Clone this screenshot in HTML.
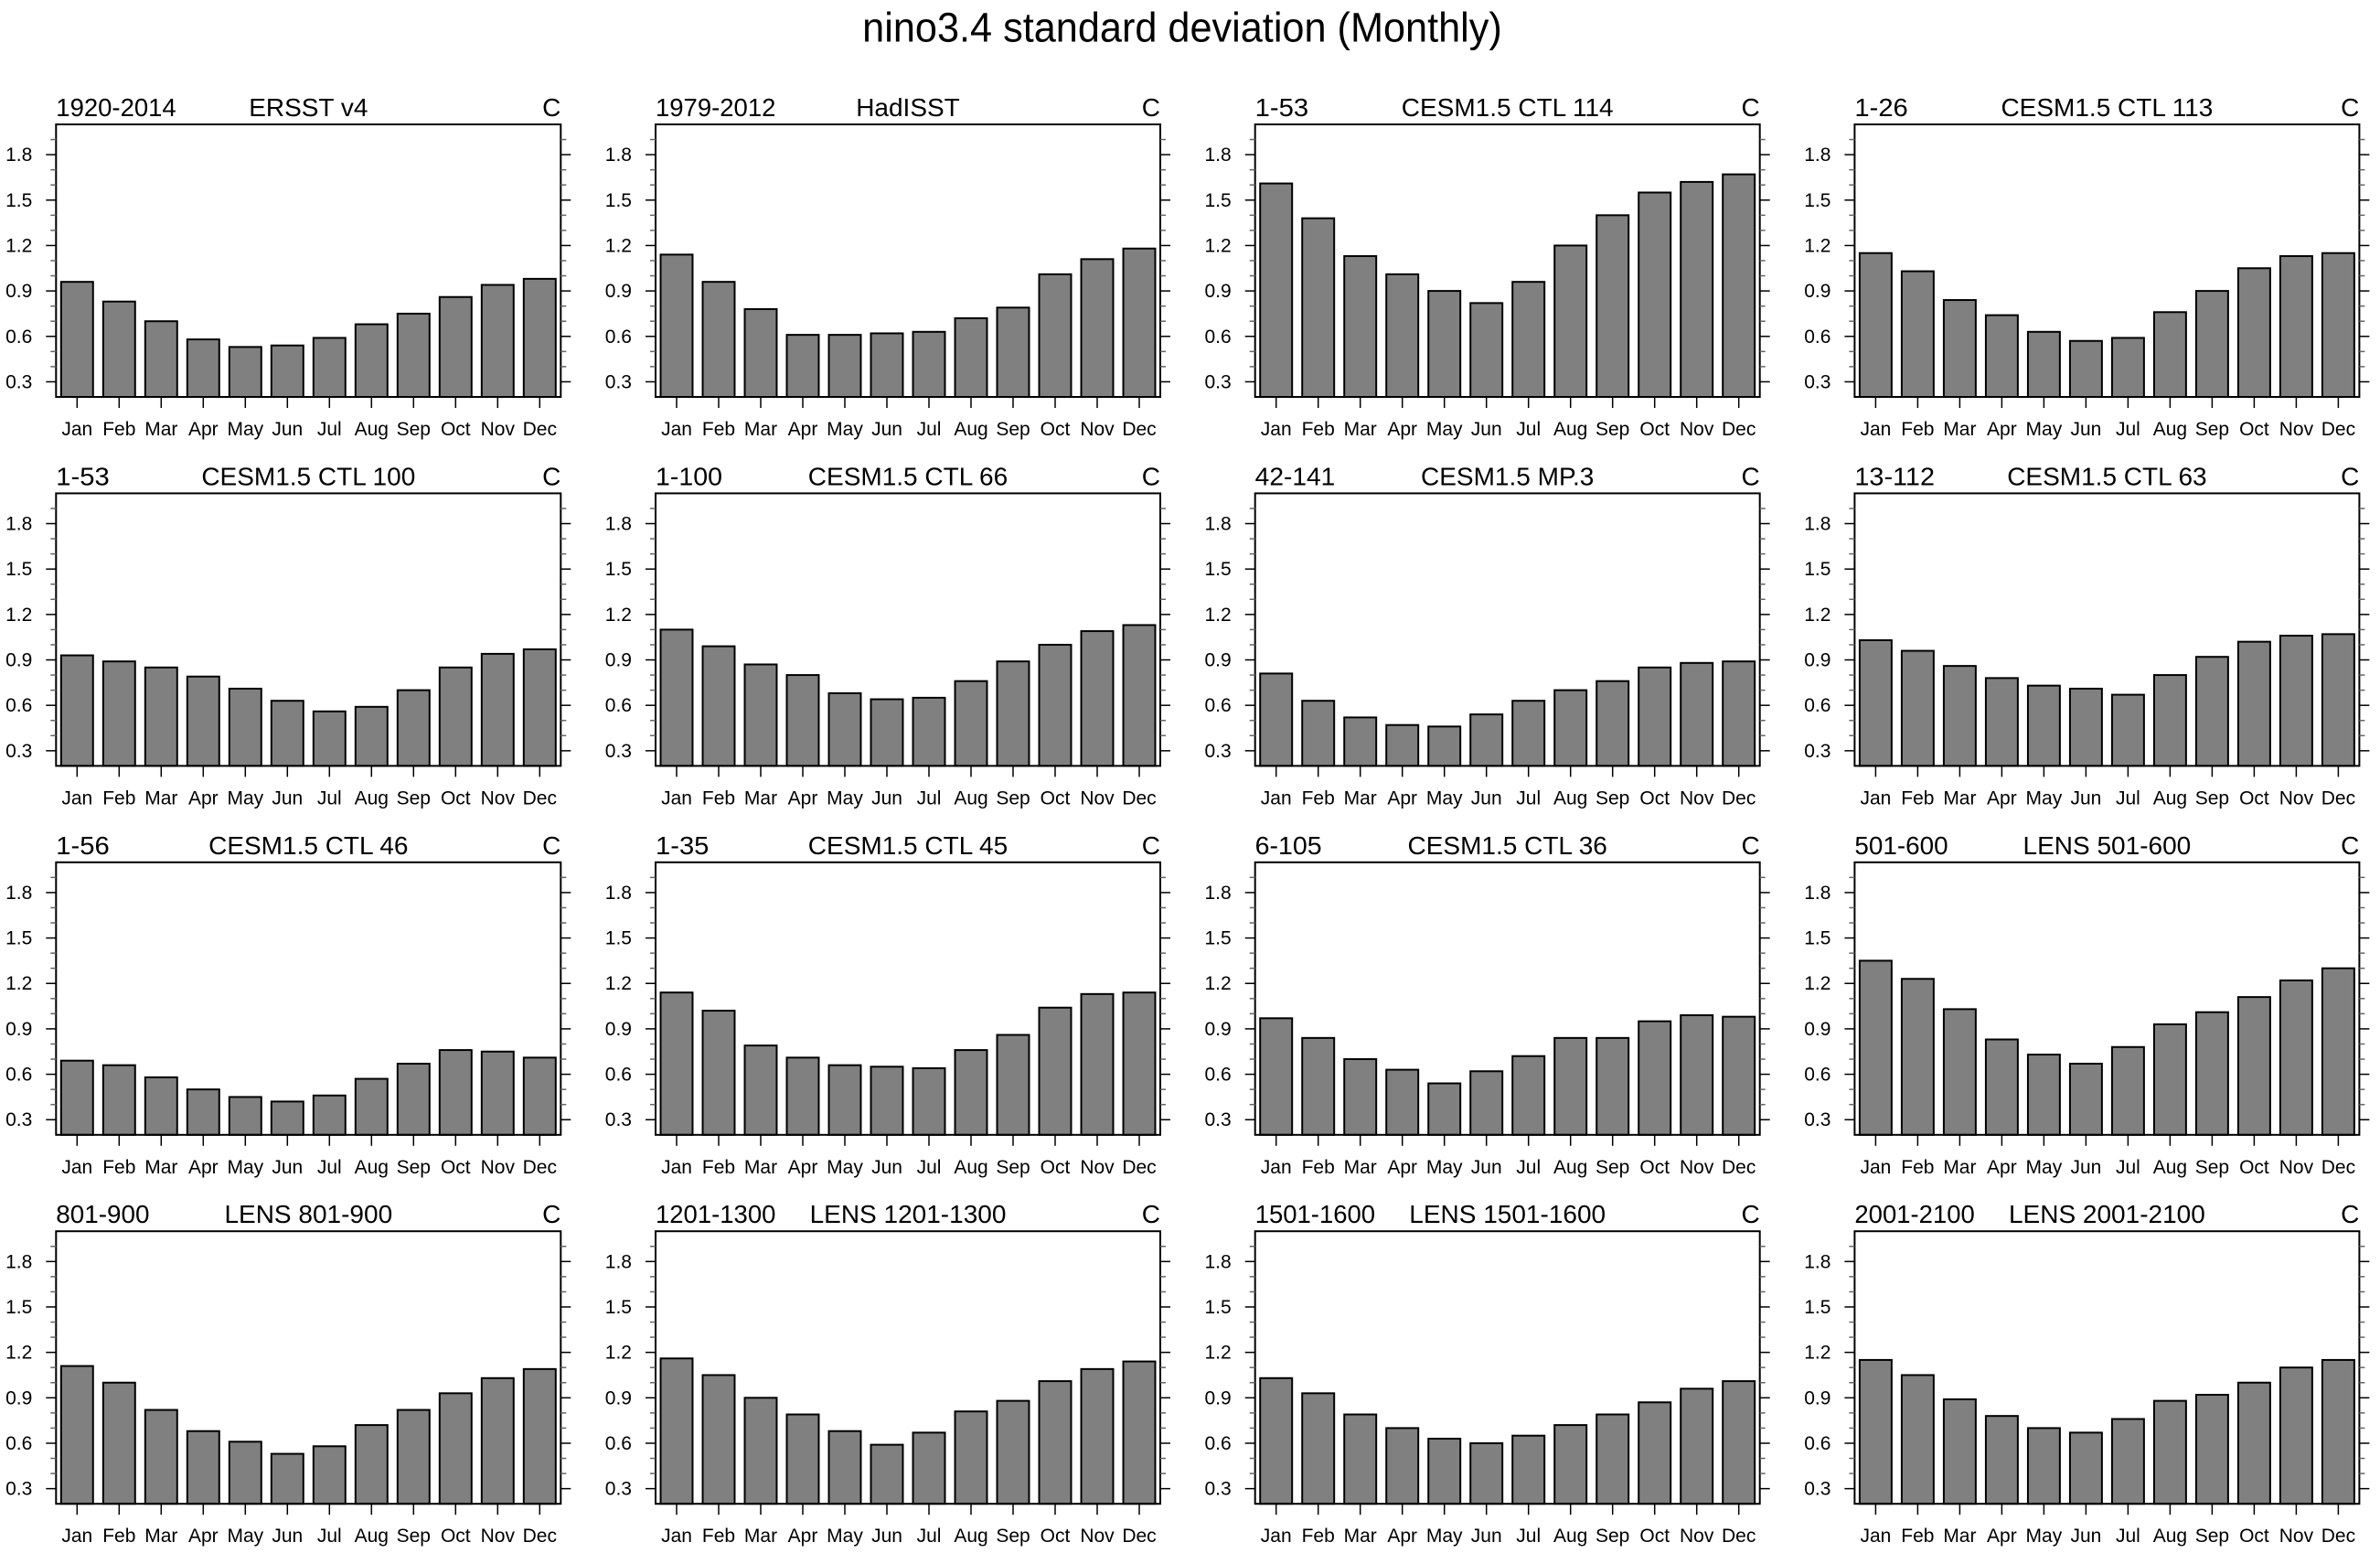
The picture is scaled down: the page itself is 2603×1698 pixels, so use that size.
<!DOCTYPE html>
<html><head><meta charset="utf-8">
<style>
html,body{margin:0;padding:0;background:#fff;}
svg{display:block;font-family:"Liberation Sans",sans-serif;}
</style></head>
<body>
<svg id="chart" width="2603" height="1698" viewBox="0 0 2603 1698" xmlns="http://www.w3.org/2000/svg">
<text x="1293" y="42" font-size="42" text-anchor="middle" fill="#000" transform="translate(1293 0) scale(1.03 1.08) translate(-1293 0)">nino3.4 standard deviation (Monthly)</text>
</svg>
<script>
const months = ["Jan","Feb","Mar","Apr","May","Jun","Jul","Aug","Sep","Oct","Nov","Dec"];
const yTicks = [0.3,0.6,0.9,1.2,1.5,1.8];
const periods = ["1920-2014","1979-2012","1-53","1-26","1-53","1-100","42-141","13-112","1-56","1-35","6-105","501-600","801-900","1201-1300","1501-1600","2001-2100"];
const names = ["ERSST v4","HadISST","CESM1.5 CTL 114","CESM1.5 CTL 113","CESM1.5 CTL 100","CESM1.5 CTL 66","CESM1.5 MP.3","CESM1.5 CTL 63","CESM1.5 CTL 46","CESM1.5 CTL 45","CESM1.5 CTL 36","LENS 501-600","LENS 801-900","LENS 1201-1300","LENS 1501-1600","LENS 2001-2100"];
const s1 = [0.96,0.83,0.70,0.58,0.53,0.54,0.59,0.68,0.75,0.86,0.94,0.98];
const s2 = [1.14,0.96,0.78,0.61,0.61,0.62,0.63,0.72,0.79,1.01,1.11,1.18];
const s3 = [1.61,1.38,1.13,1.01,0.90,0.82,0.96,1.20,1.40,1.55,1.62,1.67];
const s4 = [1.15,1.03,0.84,0.74,0.63,0.57,0.59,0.76,0.90,1.05,1.13,1.15];
const s5 = [0.93,0.89,0.85,0.79,0.71,0.63,0.56,0.59,0.70,0.85,0.94,0.97];
const s6 = [1.10,0.99,0.87,0.80,0.68,0.64,0.65,0.76,0.89,1.00,1.09,1.13];
const s7 = [0.81,0.63,0.52,0.47,0.46,0.54,0.63,0.70,0.76,0.85,0.88,0.89];
const s8 = [1.03,0.96,0.86,0.78,0.73,0.71,0.67,0.80,0.92,1.02,1.06,1.07];
const s9 = [0.69,0.66,0.58,0.50,0.45,0.42,0.46,0.57,0.67,0.76,0.75,0.71];
const s10 = [1.14,1.02,0.79,0.71,0.66,0.65,0.64,0.76,0.86,1.04,1.13,1.14];
const s11 = [0.97,0.84,0.70,0.63,0.54,0.62,0.72,0.84,0.84,0.95,0.99,0.98];
const s12 = [1.35,1.23,1.03,0.83,0.73,0.67,0.78,0.93,1.01,1.11,1.22,1.30];
const s13 = [1.11,1.00,0.82,0.68,0.61,0.53,0.58,0.72,0.82,0.93,1.03,1.09];
const s14 = [1.16,1.05,0.90,0.79,0.68,0.59,0.67,0.81,0.88,1.01,1.09,1.14];
const s15 = [1.03,0.93,0.79,0.70,0.63,0.60,0.65,0.72,0.79,0.87,0.96,1.01];
const s16 = [1.15,1.05,0.89,0.78,0.70,0.67,0.76,0.88,0.92,1.00,1.10,1.15];
const series = [s1,s2,s3,s4,s5,s6,s7,s8,s9,s10,s11,s12,s13,s14,s15,s16];

const NS = "http://www.w3.org/2000/svg";
const svg = document.getElementById("chart");
const W = 552, H = 298, YMIN = 0.2, YMAX = 2.0;
function mk(tag, attrs, parent){
  const e = document.createElementNS(NS, tag);
  for (const k in attrs) e.setAttribute(k, attrs[k]);
  parent.appendChild(e); return e;
}
series.forEach((vals, p) => {
  const col = p % 4, row = Math.floor(p / 4);
  const x0 = 61.3 + col * 655.7, y0 = 136 + row * 403.4;
  const xs = i => x0 + (i + 0.5) * W / 12;
  const ys = v => y0 + H - (v - YMIN) / (YMAX - YMIN) * H;
  const g = mk("g", {}, svg);
  
  
  const t1 = mk("text", {x: x0, y: y0 - 9, "font-size": 28, textLength: periods[p].length * 14.6, lengthAdjust: "spacingAndGlyphs"}, g);
  t1.textContent = periods[p];
  
  
  const t2 = mk("text", {x: x0 + W / 2, y: y0 - 9, "font-size": 28, "text-anchor": "middle"}, g);
  t2.textContent = names[p];
  
  
  const t3 = mk("text", {x: x0 + W, y: y0 - 9, "font-size": 28, "text-anchor": "end"}, g);
  t3.textContent = "C";
  
  
  vals.forEach((v, i) => {
    const bw = W / 12 * 0.76;
    const r = mk("rect", {x: xs(i) - bw / 2, y: ys(v), width: bw, height: ys(YMIN) - ys(v), fill: "#808080", stroke: "#000", "stroke-width": 2}, g);
    
    
  });
  const box = mk("rect", {x: x0, y: y0, width: W, height: H, fill: "none", stroke: "#000", "stroke-width": 2}, g);
  
  
  for (let k = 3; k <= 19; k++) {
    const v = k / 10, y = ys(v);
    const major = yTicks.some(t => Math.abs(t - v) < 1e-6);
    const len = major ? 11 : 6;
    mk("line", {x1: x0 - len, x2: x0, y1: y, y2: y, stroke: major ? "#000" : "#666", "stroke-width": 1.5}, g);
    mk("line", {x1: x0 + W, x2: x0 + W + len, y1: y, y2: y, stroke: major ? "#000" : "#666", "stroke-width": 1.5}, g);
  }
  yTicks.forEach(t => {
    const l = mk("text", {x: x0 - 26, y: ys(t) + 7, "font-size": 21, "text-anchor": "end"}, g);
    l.textContent = t.toFixed(1);
    
    
  });
  months.forEach((m, i) => {
    mk("line", {x1: xs(i), x2: xs(i), y1: y0 + H, y2: y0 + H + 12, stroke: "#000", "stroke-width": 1.5}, g);
    const l = mk("text", {x: xs(i), y: y0 + H + 42, "font-size": 21, "text-anchor": "middle"}, g);
    l.textContent = m;
    
    
  });
});
</script>
</body></html>
